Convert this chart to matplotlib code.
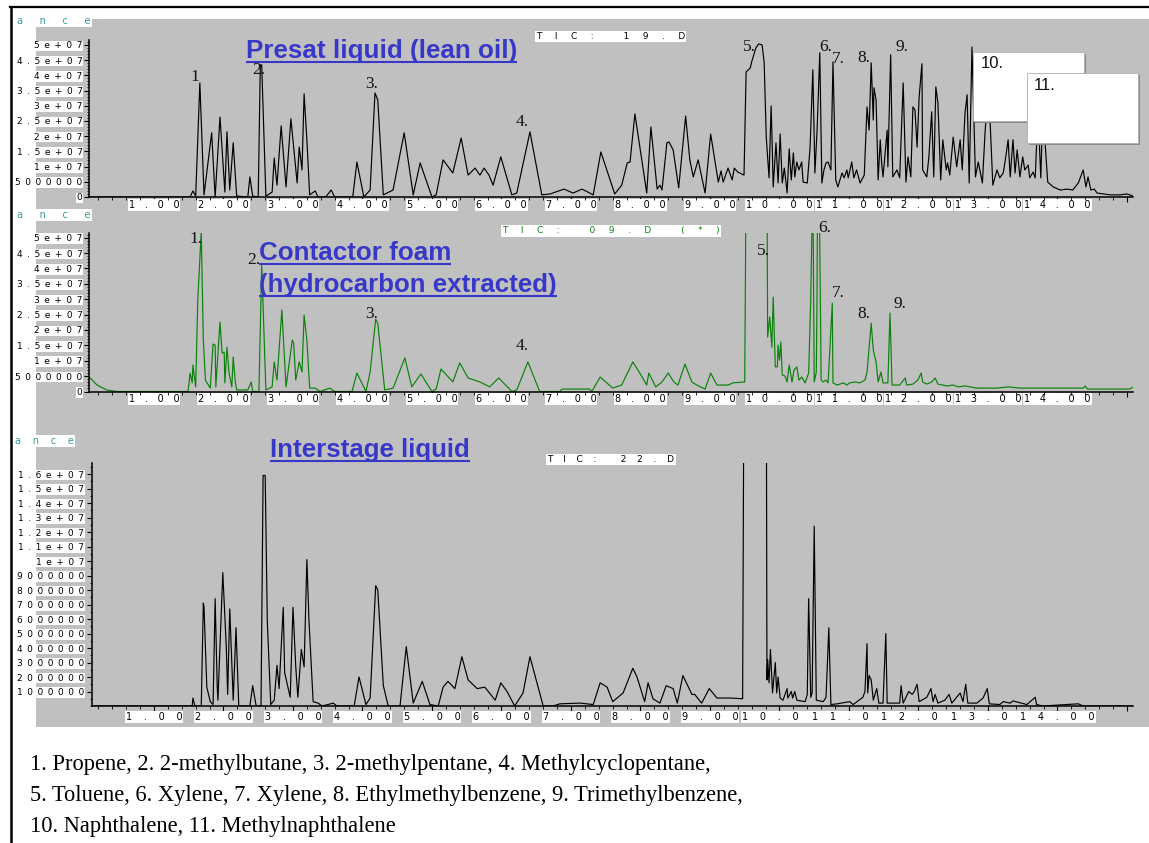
import matplotlib
matplotlib.use("Agg")
import matplotlib.pyplot as plt
from matplotlib.patches import Rectangle
from matplotlib.lines import Line2D
from matplotlib.ticker import FixedLocator, MultipleLocator, FuncFormatter

# ---------------- data (time in min, abundance in millions of counts) ----------------
lean_time = [0.07, 1.52, 1.56, 1.60, 1.66, 1.72, 1.83, 1.88, 1.95, 1.99,
             2.02, 2.05, 2.09, 2.14, 2.19, 2.35, 2.38, 2.42, 2.50, 2.53,
             2.55, 2.61, 2.70, 2.73, 2.77, 2.83, 2.90, 2.97, 3.06, 3.09,
             3.13, 3.16, 3.20, 3.24, 3.32, 3.36, 3.47, 3.55, 3.60, 3.86,
             3.92, 4.02, 4.11, 4.18, 4.22, 4.30, 4.44, 4.60, 4.73, 4.83,
             5.00, 5.06, 5.16, 5.30, 5.42, 5.52, 5.62, 5.69, 5.75, 5.82,
             5.88, 5.99, 6.15, 6.22, 6.41, 6.58, 6.70, 6.90, 7.03, 7.16,
             7.32, 7.43, 7.63, 7.73, 7.81, 7.85, 7.92, 8.09, 8.15, 8.24,
             8.28, 8.31, 8.38, 8.41, 8.47, 8.55, 8.65, 8.71, 8.76, 8.83,
             8.93, 9.01, 9.12, 9.16, 9.19, 9.26, 9.32, 9.35, 9.40, 9.49,
             9.52, 9.58, 9.60, 9.66, 9.70, 9.75, 9.78, 9.81, 9.85, 9.88,
             9.89, 9.91, 9.95, 9.98, 10.01, 10.04, 10.07, 10.11, 10.14, 10.17,
             10.20, 10.22, 10.25, 10.28, 10.32, 10.34, 10.40, 10.44, 10.48, 10.51,
             10.54, 10.55, 10.58, 10.61, 10.64, 10.67, 10.70, 10.74, 10.77, 10.81,
             10.84, 10.90, 10.93, 10.97, 10.99, 11.04, 11.07, 11.11, 11.16, 11.22,
             11.26, 11.29, 11.32, 11.35, 11.36, 11.39, 11.42, 11.45, 11.47, 11.49,
             11.55, 11.56, 11.60, 11.63, 11.69, 11.73, 11.78, 11.82, 11.85, 11.89,
             11.92, 11.95, 11.98, 12.01, 12.05, 12.06, 12.12, 12.15, 12.19, 12.22,
             12.25, 12.28, 12.32, 12.35, 12.40, 12.42, 12.45, 12.50, 12.55, 12.60,
             12.63, 12.67, 12.70, 12.73, 12.77, 12.82, 12.86, 12.92, 12.96, 13.00,
             13.03, 13.07, 13.13, 13.17, 13.22, 13.25, 13.29, 13.32, 13.36, 13.39,
             13.42, 13.46, 13.50, 13.53, 13.58, 13.60, 13.65, 13.68, 13.72, 13.76,
             13.79, 13.86, 13.94, 14.04, 14.14, 14.22, 14.30, 14.37, 14.41, 14.44,
             14.48, 14.53, 14.57, 14.66, 14.76, 14.90, 15.00, 15.09]
lean_abund = [0, 0, 2.0, 0.3, 37.5, 0.7, 21.1, 0, 26.3, 12.2,
              1.6, 21.4, 2.3, 17.8, 0.3, 0, 6.6, 0.3, 0, 43.4,
              43.4, 0.3, 1.6, 12.8, 3.9, 23.4, 3.3, 25.7, 4.6, 16.4,
              8.9, 33.9, 18.8, 0.7, 2.0, 0, 0, 2.3, 0, 0,
              11.5, 0, 2.3, 34.2, 31.9, 0.7, 2.3, 21.1, 0.7, 11.2,
              0, 0.7, 12.2, 7.9, 19.4, 7.2, 9.5, 7.2, 9.5, 7.2,
              3.9, 13.2, 0.7, 1.3, 21.4, 0.7, 1.0, 2.6, 1.3, 2.6,
              0.7, 14.8, 1.0, 3.9, 11.2, 11.5, 27.3, 1.3, 23.0, 2.6,
              3.9, 2.3, 17.8, 18.1, 15.5, 3.0, 26.6, 12.2, 6.6, 12.2,
              1.3, 20.7, 4.9, 8.6, 4.9, 9.5, 5.6, 9.5, 8.2, 7.2,
              41.1, 42.4, 44.4, 49.0, 50.3, 50.0, 44.1, 19.7, 6.3, 29.9,
              22.0, 3.3, 17.8, 4.6, 20.7, 4.6, 9.5, 1.3, 15.8, 5.6,
              14.5, 6.6, 11.5, 8.9, 11.5, 4.9, 4.6, 16.1, 41.8, 7.9,
              21.4, 27.6, 47.4, 4.6, 8.9, 11.2, 11.5, 8.9, 44.4, 5.6,
              3.3, 7.9, 6.3, 8.9, 6.3, 11.5, 6.3, 8.9, 4.6, 7.2,
              29.6, 22.0, 44.1, 25.3, 35.9, 31.9, 5.6, 18.8, 11.2, 6.6,
              22.0, 9.9, 46.7, 6.6, 8.9, 6.3, 37.5, 4.9, 13.2, 6.6,
              29.6, 28.6, 16.4, 32.9, 43.8, 8.9, 6.6, 13.2, 28.0, 6.6,
              36.2, 30.9, 5.6, 18.8, 8.9, 11.2, 7.2, 19.7, 9.9, 18.8,
              8.9, 27.6, 33.6, 4.6, 49.3, 6.6, 11.5, 4.6, 22.0, 33.6,
              25.3, 3.9, 8.9, 6.3, 7.9, 12.2, 18.8, 6.6, 18.8, 7.9,
              15.5, 6.6, 13.2, 8.9, 10.5, 6.3, 8.2, 6.3, 28.6, 6.3,
              28.6, 4.9, 3.3, 2.3, 2.6, 2.3, 4.6, 8.9, 3.3, 6.6,
              2.3, 2.6, 1.3, 1.0, 0.7, 0.7, 1.0, 0.3]

foam_time = [0.07, 0.18, 0.32, 0.47, 1.49, 1.52, 1.55, 1.56, 1.60, 1.63,
             1.68, 1.71, 1.74, 1.81, 1.85, 1.88, 1.89, 1.95, 1.98, 2.01,
             2.02, 2.05, 2.08, 2.12, 2.14, 2.17, 2.19, 2.35, 2.40, 2.42,
             2.51, 2.55, 2.61, 2.70, 2.73, 2.77, 2.84, 2.90, 2.99, 3.01,
             3.04, 3.09, 3.13, 3.16, 3.20, 3.24, 3.32, 3.39, 3.53, 3.60,
             3.85, 3.92, 4.05, 4.11, 4.19, 4.22, 4.32, 4.44, 4.61, 4.71,
             4.84, 5.00, 5.06, 5.13, 5.30, 5.40, 5.52, 5.69, 5.83, 5.96,
             6.15, 6.22, 6.38, 6.55, 6.84, 6.87, 7.27, 7.30, 7.42, 7.60,
             7.73, 7.89, 7.99, 8.09, 8.12, 8.22, 8.31, 8.40, 8.48, 8.54,
             8.64, 8.74, 8.81, 8.93, 9.01, 9.10, 9.17, 9.26, 9.33, 9.50,
             9.52, 9.82, 9.83, 9.86, 9.89, 9.91, 9.94, 9.97, 9.98, 10.00,
             10.02, 10.04, 10.08, 10.11, 10.14, 10.18, 10.21, 10.25, 10.28, 10.32,
             10.37, 10.42, 10.45, 10.48, 10.50, 10.53, 10.54, 10.55, 10.57, 10.60,
             10.63, 10.67, 10.70, 10.76, 10.77, 10.83, 10.92, 10.97, 11.01, 11.09,
             11.16, 11.23, 11.26, 11.32, 11.35, 11.39, 11.42, 11.46, 11.49, 11.56,
             11.59, 11.62, 11.73, 11.81, 11.83, 11.92, 11.99, 12.04, 12.06, 12.12,
             12.19, 12.24, 12.28, 12.35, 12.41, 12.50, 12.57, 12.67, 12.84, 13.13,
             13.29, 13.46, 14.37, 14.40, 14.43, 15.04, 15.09]
foam_abund = [4.7, 2.1, 0.5, 0, 0, 6.0, 2.8, 8.6, 1.5, 29.7,
              52, 16.7, 3.7, 1.1, 15.4, 15.1, 1.5, 22.6, 12.5, 12.8,
              2.8, 14.4, 6.0, 1.5, 11.2, 3.1, 0.5, 0.5, 3.1, 0,
              0, 41.1, 0.5, 1.5, 9.6, 3.7, 26.5, 1.5, 16.7, 15.7,
              3.7, 9.6, 6.3, 24.8, 16.7, 1.1, 1.1, 0, 1.1, 0,
              0, 6.0, 0, 6.3, 23.5, 22.2, 0.5, 1.1, 10.9, 1.5,
              5.7, 0, 0.8, 7.3, 3.1, 9.3, 4.4, 3.1, 1.5, 4.4,
              0, 0.5, 9.6, 0, 0, 0.8, 0.8, 0, 4.7, 1.1,
              2.1, 9.6, 6.0, 2.1, 6.0, 1.5, 3.1, 6.0, 3.1, 2.1,
              8.9, 3.1, 2.1, 0.8, 6.0, 2.1, 2.1, 2.1, 2.8, 3.1,
              70, 70, 17.7, 24.2, 14.4, 30.7, 8.0, 8.0, 15.1, 10.2,
              16.1, 5.4, 5.0, 3.1, 8.6, 3.1, 7.0, 8.0, 3.7, 4.7,
              2.8, 6.0, 29.7, 70, 3.1, 6.3, 29.7, 70, 70, 3.7,
              3.1, 3.7, 2.8, 28.7, 2.8, 2.1, 2.8, 2.1, 2.8, 3.1,
              2.8, 3.7, 6.3, 22.2, 13.5, 9.6, 3.1, 6.3, 2.8, 2.8,
              25.5, 2.1, 2.1, 4.4, 2.1, 2.4, 3.7, 6.0, 3.1, 2.4,
              3.1, 4.4, 2.4, 2.1, 1.8, 2.1, 1.5, 1.8, 1.1, 1.1,
              1.5, 1.1, 1.1, 1.8, 0.8, 0.8, 1.5]

inter_time = [0.11, 1.55, 1.56, 1.59, 1.68, 1.71, 1.72, 1.76, 1.81, 1.85,
              1.88, 1.91, 1.92, 1.99, 2.04, 2.06, 2.09, 2.14, 2.18, 2.19,
              2.22, 2.38, 2.42, 2.47, 2.54, 2.57, 2.60, 2.63, 2.68, 2.73,
              2.77, 2.80, 2.86, 2.88, 2.96, 3.00, 3.04, 3.07, 3.12, 3.16,
              3.20, 3.23, 3.29, 3.36, 3.42, 3.58, 3.63, 3.88, 3.95, 4.05,
              4.11, 4.19, 4.22, 4.30, 4.37, 4.54, 4.63, 4.73, 4.86, 4.97,
              5.09, 5.16, 5.23, 5.33, 5.43, 5.52, 5.65, 5.76, 5.91, 5.99,
              6.08, 6.19, 6.31, 6.41, 6.51, 6.60, 6.74, 6.84, 7.13, 7.32,
              7.42, 7.52, 7.60, 7.75, 7.89, 7.95, 8.06, 8.11, 8.18, 8.28,
              8.37, 8.47, 8.53, 8.61, 8.74, 8.78, 8.88, 8.99, 9.10, 9.29,
              9.47, 9.49, 9.81, 9.82, 9.83, 9.85, 9.87, 9.90, 9.94, 9.96,
              9.98, 10.01, 10.05, 10.11, 10.12, 10.17, 10.19, 10.22, 10.25, 10.37,
              10.40, 10.42, 10.45, 10.47, 10.50, 10.53, 10.63, 10.67, 10.71, 10.74,
              10.83, 11.01, 11.06, 11.20, 11.23, 11.26, 11.27, 11.29, 11.32, 11.35,
              11.40, 11.43, 11.49, 11.53, 11.55, 11.73, 11.75, 11.78, 11.86, 11.91,
              11.94, 11.98, 12.01, 12.12, 12.18, 12.21, 12.24, 12.28, 12.38, 12.44,
              12.48, 12.60, 12.64, 12.68, 12.71, 12.84, 12.93, 12.99, 13.02, 13.17,
              13.22, 13.32, 13.36, 13.56, 13.68, 13.70, 13.79, 14.30, 14.37, 15.09]
inter_abund = [0, 0, 0.55, 0, 0, 7.1, 6.8, 1.3, 0.3, 0.1,
               7.4, 1.3, 0.4, 9.2, 4.1, 0.8, 6.7, 0.4, 5.4, 4.1,
               0, 0, 1.4, 0, 0, 15.9, 15.9, 5.9, 0.1, 0.4,
               2.8, 1.2, 6.8, 2.3, 0.6, 6.8, 2.7, 0.6, 3.9, 2.7,
               10.1, 5.9, 0.3, 0.2, 0, 0.2, 0, 0, 2.0, 0.1,
               0.55, 8.3, 8.0, 1.4, 0, 0, 4.1, 0.2, 1.7, 0.1,
               0, 1.3, 1.7, 1.2, 3.4, 1.8, 1.2, 1.3, 0.4, 1.6,
               1.0, 0, 0.9, 3.4, 1.6, 0, 0, 0.15, 0.2, 0.1,
               1.6, 1.3, 0.3, 0.9, 2.6, 2.0, 0.3, 1.6, 0.5, 0.2,
               1.4, 1.2, 0.2, 2.1, 0.8, 0.8, 0.2, 1.2, 0.55, 0.55,
               0.5, 25, 25, 1.8, 3.2, 1.6, 3.9, 0.9, 3.0, 0.9,
               2.0, 0.55, 0.4, 1.2, 0.55, 1.0, 0.55, 1.0, 0.4, 0.3,
               0.8, 7.4, 0.6, 0.9, 12.4, 0.4, 0.3, 0.6, 5.4, 0.1,
               0.15, 0.3, 0.1, 0.6, 1.0, 4.3, 0.9, 2.1, 1.8, 0.4,
               1.2, 0.2, 0.2, 5.0, 0.2, 0.2, 1.4, 0.2, 1.0, 0.8,
               1.0, 1.5, 0.3, 0.6, 1.2, 0.3, 0.8, 0.2, 0.4, 0.8,
               0.2, 0.9, 0.3, 1.5, 0.2, 0.2, 0.55, 1.2, 0.15, 0.1,
               0.3, 0.2, 0.35, 0.1, 0.6, 0.1, 0, 0.15, 0, 0]

lean_ticks = [0, 5, 10, 15, 20, 25, 30, 35, 40, 45, 50]
foam_ticks = [0, 5, 10, 15, 20, 25, 30, 35, 40, 45, 50]
inter_ticks = [1, 2, 3, 4, 5, 6, 7, 8, 9, 10, 11, 12, 13, 14, 15, 16]
time_ticks = [1, 2, 3, 4, 5, 6, 7, 8, 9, 10, 11, 12, 13, 14, 15]

titles = ["Presat liquid (lean oil)", "Contactor foam", "(hydrocarbon extracted)", "Interstage liquid"]
tic_names = ["TIC: 19.D", "TIC: 09.D (*)", "TIC: 22.D"]
compounds = ["Propene", "2-methylbutane", "2-methylpentane", "Methylcyclopentane",
             "Toluene", "Xylene", "Xylene", "Ethylmethylbenzene", "Trimethylbenzene",
             "Naphthalene", "Methylnaphthalene"]
legend_lines = [(0, 4), (4, 9), (9, 11)]

# ---------------- figure ----------------
W, H = 1149, 843
fig = plt.figure(figsize=(W / 100, H / 100), dpi=100)
fig.patch.set_facecolor("white")
R = fig.canvas.get_renderer()

EM, EN, THIN = "\u2003", "\u2002", "\u2009"
BLUE = "#3838c8"
TEAL = "#3a9a9a"
GREEN = "#0a820a"


def fxy(px, py):
    return (px / W, 1 - py / H)


def spaced(s, sep):
    return sep.join(s)


fig.add_artist(Rectangle(fxy(36, 727), (1149 - 36) / W, (727 - 19) / H,
                         transform=fig.transFigure, fc="#c0c0c0", ec="none", zorder=-5))


def abund_label(v):
    val = int(round(v * 1e6))
    if val == 0:
        return "0"
    if val < 10_000_000:
        return str(val)
    return "%g" % val


def make_panel(x0, ytop, x1, ybot, xlim, ymax, yticks, yminor, times, abund, color,
               xsep, ysep, xpad, ypad):
    l, b = fxy(x0, ybot)
    ax = fig.add_axes([l, b, (x1 - x0) / W, (ybot - ytop) / H])
    ax.set_facecolor("none")
    ax.plot(times, abund, color=color, lw=0.85)
    ax.set_xlim(*xlim)
    ax.set_ylim(0, ymax)
    for s in ("top", "right"):
        ax.spines[s].set_visible(False)
    for s in ("left", "bottom"):
        ax.spines[s].set_linewidth(1.1)
    ax.xaxis.set_major_locator(FixedLocator(time_ticks))
    ax.xaxis.set_minor_locator(MultipleLocator(0.2))
    ax.xaxis.set_major_formatter(FuncFormatter(
        lambda v, p: spaced(f"{v:.2f}", xsep) if v < 14.5 else ""))
    ax.yaxis.set_major_locator(FixedLocator(yticks))
    ax.yaxis.set_minor_locator(MultipleLocator(yminor))
    ax.yaxis.set_major_formatter(FuncFormatter(lambda v, p: spaced(abund_label(v), ysep)))
    ax.tick_params(which="major", direction="out", length=3.5, width=0.8,
                   labelsize=7, colors="black")
    ax.tick_params(axis="y", which="major", labelsize=6.5)
    ax.tick_params(which="minor", direction="out", length=1.8, width=0.6)
    ax.tick_params(axis="x", pad=xpad)
    ax.tick_params(axis="y", pad=ypad)
    return ax


ax1 = make_panel(89, 40, 1133, 197, (0.065, 15.087), 51.6, lean_ticks, 1.0,
                 lean_time, lean_abund, "black", EM, EN, -1.5, 1.1)
ax2 = make_panel(89, 233, 1133, 391.5, (0.065, 15.087), 51.5, foam_ticks, 1.0,
                 foam_time, foam_abund, GREEN, EM, EN, -1.5, 1.1)
ax3 = make_panel(92, 463, 1133, 706, (0.108, 15.087), 16.76, inter_ticks, 0.5,
                 inter_time, inter_abund, "black", EM + THIN, EN, 0.8, 2.0)


# ---------------- text helpers ----------------
def ftext(px, py, s, **kw):
    x, y = fxy(px, py)
    return fig.text(x, y, s, **kw)


def fit(txt, width):
    bb = txt.get_window_extent(R)
    txt.set_fontsize(txt.get_fontsize() * width / bb.width)


def underline(txt, py, color, lw=1.5):
    bb = txt.get_window_extent(R)
    y = 1 - py / H
    fig.add_artist(Line2D([bb.x0 / W, bb.x1 / W], [y, y], transform=fig.transFigure,
                          color=color, lw=lw, solid_capstyle="butt"))


# titles (blue, bold, underlined)
title_specs = [(246, 58, 270, 0), (259, 260, 192, 1), (259, 292, 298, 2), (270, 457, 200, 3)]
for px, base, width, i in title_specs:
    t = ftext(px, base, titles[i], family="Liberation Sans", weight="bold", color=BLUE,
              fontsize=18, ha="left", va="baseline")
    fit(t, width)
    underline(t, base + 4, BLUE)

# TIC labels
tic_specs = [(610.5, 36.5, EM + EN, "black", 0), (611, 231, EM + EN, GREEN, 1),
             (611, 459.5, EM + THIN, "black", 2)]
for px, py, sep, col, i in tic_specs:
    ftext(px, py, spaced(tic_names[i], sep), fontsize=6.5, color=col, ha="center", va="center",
          bbox=dict(fc="white", ec="none", pad=0.8))

# truncated 'Abundance' axis titles
for px, py, sep in [(17, 21, EM + EN + THIN), (17, 215, EM + EN + THIN), (15, 441, EM + THIN)]:
    ftext(px, py, spaced("ance", sep), fontsize=7, color=TEAL, ha="left", va="center",
          bbox=dict(fc="white", ec="none", pad=0.8), zorder=6)

# peak numbers
peak_font = dict(family="Liberation Serif", fontsize=12.5, color="#111111", va="center", ha="left")
lean_labels = [(190, 77, "1"), (252, 70, "2."), (365, 84, "3."), (516, 122, "4."),
               (743, 47, "5."), (819, 47, "6."), (832, 59, "7."), (857, 58, "8."), (895, 47, "9.")]
foam_labels = [(189, 239, "1."), (247, 260, "2."), (365, 314, "3."), (516, 346, "4."),
               (757, 251, "5."), (818, 228, "6."), (832, 293, "7."), (857, 314, "8."), (894, 304, "9.")]
for px, py, s in lean_labels + foam_labels:
    ftext(px, py, s, **peak_font)

# boxes for 10. and 11.
for (x0, y0, x1, y1, lab, lx, ly, z) in [(973, 52, 1084, 121, "10.", 981, 64, 5),
                                          (1027, 73, 1138, 143, "11.", 1034, 86, 7)]:
    sx, sy = fxy(x0 + 2, y1 + 2)
    fig.add_artist(Rectangle((sx, sy), (x1 - x0) / W, (y1 - y0) / H, transform=fig.transFigure,
                             fc="#8a8a8a", ec="none", zorder=z))
    bx, by = fxy(x0, y1)
    fig.add_artist(Rectangle((bx, by), (x1 - x0) / W, (y1 - y0) / H, transform=fig.transFigure,
                             fc="white", ec="#b0b0b0", lw=0.6, zorder=z + 0.5))
    ftext(lx, ly, lab, family="Liberation Sans", fontsize=12, color="#111111",
          ha="left", va="center", zorder=z + 1)

# compound legend
leg_texts = []
for (a, b) in legend_lines:
    parts = [f"{k + 1}. {compounds[k]}" for k in range(a, b)]
    s = ", ".join(parts) + ("," if b < len(compounds) else "")
    leg_texts.append(s)
leg_objs = []
for s, base in zip(leg_texts, [770, 801, 832]):
    leg_objs.append(ftext(30, base, s, family="Liberation Serif", fontsize=14, color="black",
                          ha="left", va="baseline"))
bb = leg_objs[1].get_window_extent(R)
size = leg_objs[1].get_fontsize() * 715 / bb.width
for t in leg_objs:
    t.set_fontsize(size)

# outer frame lines
fig.add_artist(Line2D([10 / W, 1.0], [1 - 7 / H] * 2, transform=fig.transFigure, color="black",
                      lw=1.6, zorder=10))
fig.add_artist(Line2D([11 / W, 11 / W], [0, 1 - 7 / H], transform=fig.transFigure, color="black",
                      lw=1.8, zorder=10))

# white boxes behind tick labels
fig.canvas.draw()
for ax in (ax1, ax2, ax3):
    for lbl in ax.get_xticklabels() + ax.get_yticklabels():
        lbl.set_bbox(dict(fc="white", ec="none", pad=0.6))

fig.savefig("out.png", dpi=100)
